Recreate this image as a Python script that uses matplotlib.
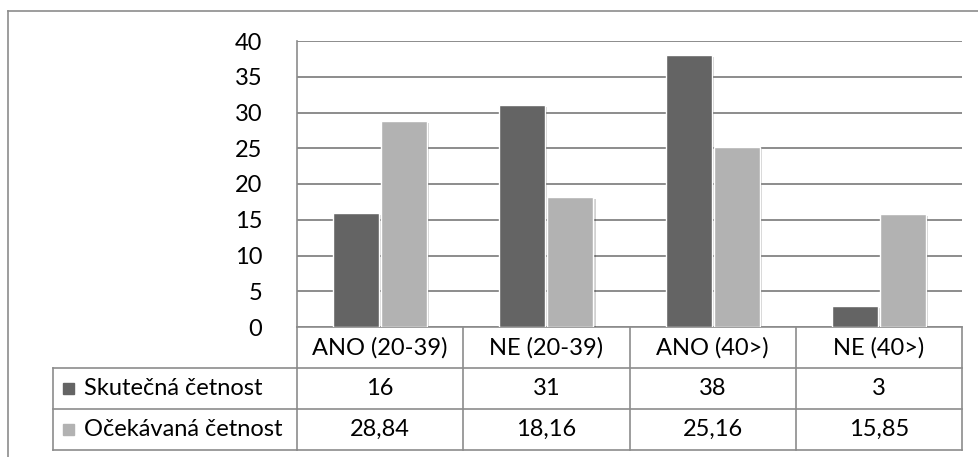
import matplotlib
matplotlib.use('Agg')
import matplotlib.pyplot as plt
import matplotlib.patheffects as pe
from matplotlib.patches import Rectangle
import numpy as np

plt.rcParams['font.family'] = ['Lato', 'DejaVu Sans']

kategorie = ['ANO (20-39)', 'NE (20-39)', 'ANO (40>)', 'NE (40>)']
skutecna = [16, 31, 38, 3]
ocekavana = [28.84, 18.16, 25.16, 15.85]
serie = ['Skutečná četnost', 'Očekávaná četnost']
barvy = ['#646464', '#b2b2b2']

W, H = 979, 457
fig = plt.figure(figsize=(W / 100, H / 100), dpi=100)

def fx(x):
    return x / W

def fy(y):
    return 1 - y / H

seda = '#8c8c8c'
fs = 17

# vnejsi ramecek (vpravo a dole je oriznuty)
fig.add_artist(plt.Line2D([fx(8), fx(8)], [fy(11), 0], color=seda, lw=1.2))
fig.add_artist(plt.Line2D([fx(8), 1], [fy(11), fy(11)], color=seda, lw=1.2))

ax = fig.add_axes([fx(297), fy(327), (962 - 297) / W, (327 - 41) / H])
ax.set_xlim(-0.5, 3.5)
ax.set_ylim(0, 40)
ax.set_yticks(np.arange(0, 41, 5))
ax.set_xticks([])
ax.tick_params(axis='y', length=0, pad=25, labelsize=fs)
for s in ['top', 'right', 'bottom']:
    ax.spines[s].set_visible(False)
ax.spines['left'].set_color(seda)
ax.spines['left'].set_linewidth(1.2)
ax.yaxis.grid(True, color=seda, lw=1.4)
ax.set_axisbelow(True)

x = np.arange(len(kategorie))
sirka = 0.277
posun = 0.1446
stin = [pe.SimplePatchShadow(offset=(1.5, -1.5), shadow_rgbFace='#000000', alpha=0.18), pe.Normal()]
for i, (hodnoty, off) in enumerate([(skutecna, -posun), (ocekavana, posun)]):
    bars = ax.bar(x + off, hodnoty, sirka, color=barvy[i], edgecolor='white', lw=1.0, zorder=3)
    for b in bars:
        b.set_path_effects(stin)

# tabulka s daty pod grafem
xt = ax.get_xaxis_transform()
h = 1 / 286
radky = [0, -41 * h, -82 * h, -123 * h]
hranice = np.arange(len(kategorie) + 1) - 0.5
ax.plot([hranice[0], hranice[-1]], [0, 0], transform=xt, color=seda, lw=1.2, clip_on=False)
for y in radky[1:]:
    ax.plot([-0.5, 3.5], [y, y], transform=xt, color=seda, lw=1.2, clip_on=False)
    fig.add_artist(plt.Line2D([fx(53), fx(297)], [fy(327 - y / h), fy(327 - y / h)], color=seda, lw=1.2))
for xb in hranice:
    ax.plot([xb, xb], [0, radky[-1]], transform=xt, color=seda, lw=1.2, clip_on=False)
fig.add_artist(plt.Line2D([fx(53), fx(53)], [fy(368), fy(450)], color=seda, lw=1.2))

for i, k in enumerate(kategorie):
    ax.text(i, (radky[0] + radky[1]) / 2, k, transform=xt, ha='center', va='center', fontsize=fs)
    ax.text(i, (radky[1] + radky[2]) / 2, str(skutecna[i]), transform=xt, ha='center', va='center', fontsize=fs)
    ax.text(i, (radky[2] + radky[3]) / 2, f'{ocekavana[i]:.2f}'.replace('.', ','), transform=xt,
            ha='center', va='center', fontsize=fs)

for j, nazev in enumerate(serie):
    yc = 388.5 + 41 * j
    fig.add_artist(Rectangle((fx(63), fy(yc + 5.5)), 11 / W, 11 / H, color=barvy[j], transform=fig.transFigure))
    fig.text(fx(84), fy(yc), nazev, ha='left', va='center', fontsize=fs)

fig.savefig('out.png', dpi=100)
